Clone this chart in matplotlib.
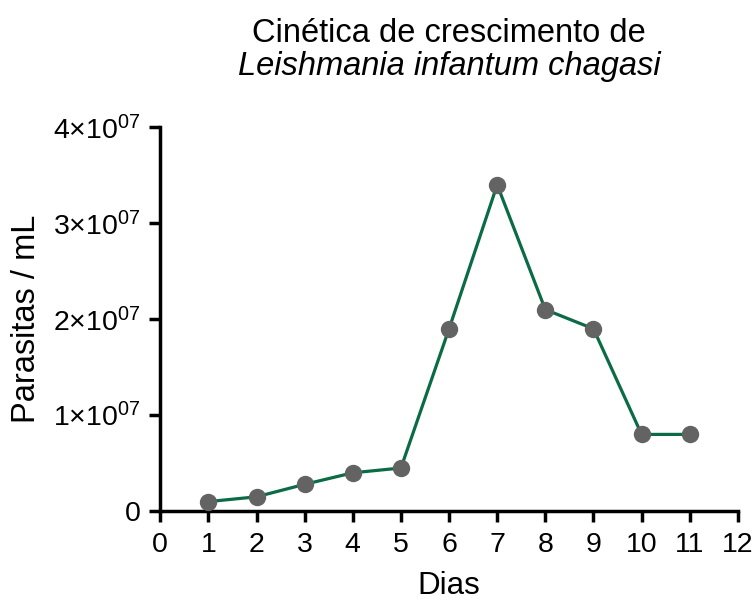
import matplotlib
matplotlib.use('Agg')
from matplotlib import pyplot as plt
from matplotlib.ticker import FuncFormatter

plt.rcParams['font.family'] = ['Liberation Sans', 'DejaVu Sans']
plt.rcParams['mathtext.fontset'] = 'custom'
plt.rcParams['mathtext.rm'] = 'Liberation Sans'
plt.rcParams['mathtext.it'] = 'Liberation Sans:italic'

days = [1, 2, 3, 4, 5, 6, 7, 8, 9, 10, 11]
parasites = [1.0e6, 1.5e6, 2.8e6, 4.0e6, 4.5e6, 1.9e7, 3.4e7, 2.1e7, 1.9e7, 8.0e6, 8.0e6]
x_ticks = list(range(0, 13))
y_ticks = [0, 1e7, 2e7, 3e7, 4e7]


def fmt_y(v, pos):
    if v == 0:
        return '0'
    m = int(round(v / 1e7))
    return r'$\mathregular{%d{\times}10^{07}}$' % m


fig = plt.figure(figsize=(7.56, 6.0), dpi=100)
ax = fig.add_axes([0.212, 0.148, 0.764, 0.64])

ax.plot(days, parasites, color='#0b6b45', lw=2.3, marker='o', markersize=11.5,
        markerfacecolor='#636363', markeredgecolor='#636363', zorder=3, clip_on=False)

ax.set_xlim(0, 12)
ax.set_ylim(0, 4e7)
ax.set_xticks(x_ticks)
ax.set_yticks(y_ticks)
ax.yaxis.set_major_formatter(FuncFormatter(fmt_y))

for s in ['top', 'right']:
    ax.spines[s].set_visible(False)
for s in ['left', 'bottom']:
    ax.spines[s].set_linewidth(2.5)
ax.tick_params(axis='both', direction='out', length=8, width=2.5, labelsize=20.5, color='black')
ax.tick_params(axis='x', pad=7)
ax.tick_params(axis='y', pad=6)

ax.set_xlabel('Dias', fontsize=22.5)
ax.xaxis.set_label_coords(0.5, -0.155)
ax.set_ylabel('Parasitas / mL', fontsize=23.5)
ax.yaxis.set_label_coords(-0.205, 0.5)

ax.text(0.5, 1.243, 'Cinética de crescimento de', transform=ax.transAxes,
        ha='center', va='center', fontsize=23.5)
ax.text(0.5, 1.158, 'Leishmania infantum chagasi', transform=ax.transAxes,
        ha='center', va='center', fontsize=23.5, style='italic')

fig.savefig('out.png', dpi=100)
